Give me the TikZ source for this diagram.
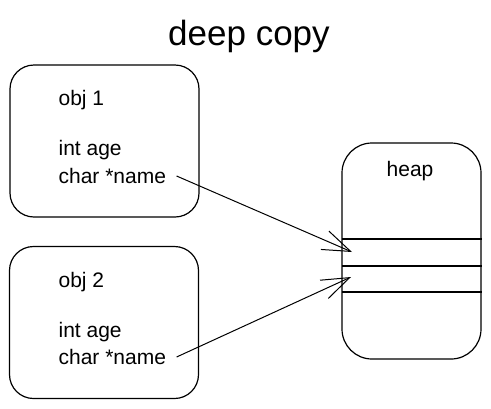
\documentclass[tikz,border=0pt]{standalone}
\usepackage{fontspec}
\setmainfont{Liberation Sans}
\usetikzlibrary{arrows.meta,calc}

\begin{document}
\begin{tikzpicture}[x=0.5pt,y=-0.5pt,line width=0.6pt,
  objbox/.style={draw,rounded corners=12pt,minimum width=94.5pt,minimum height=76pt},
  field/.style={anchor=west,inner sep=0pt,font=\fontsize{10.5}{12}\selectfont},
  ptr/.style={-{Straight Barb[length=14pt,width=10pt]},line width=0.5pt}]
\useasboundingbox (0,0) rectangle (491,408);

\node[font=\fontsize{17.5}{20}\selectfont] (title) at (249,36) {deep copy};

% the two objects and the heap
\node[objbox] (obj1) at (104.5,141) {};
\node[objbox] (obj2) at (104,322.5) {};
\node[objbox,rounded corners=15pt,minimum width=69.5pt,minimum height=108pt] (heap) at (411.5,251) {};

\node[field] (head1) at (58,100) {obj 1};
\node[field] (age1)  at (58,150) {int age};
\node[field] (name1) at (58,176) {char *name};

\node[field] (head2) at (58,282) {obj 2};
\node[field] (age2)  at (58,332) {int age};
\node[field] (name2) at (58,357) {char *name};

\node[field,anchor=center] (heaplbl) at (410,171) {heap};

% slots in the heap
\coordinate (s1) at (342,239);
\coordinate (s2) at (342,266);
\coordinate (s3) at (342,292);
\foreach \s in {s1,s2,s3}
  \draw (\s) -- (\s -| heap.east);

\coordinate (slot1) at (352,252);
\coordinate (slot2) at (351,277);

\draw[ptr] ([xshift=5pt]name1.east) -- (slot1);
\draw[ptr] ([xshift=5pt]name2.east) -- (slot2);

\end{tikzpicture}
\end{document}
